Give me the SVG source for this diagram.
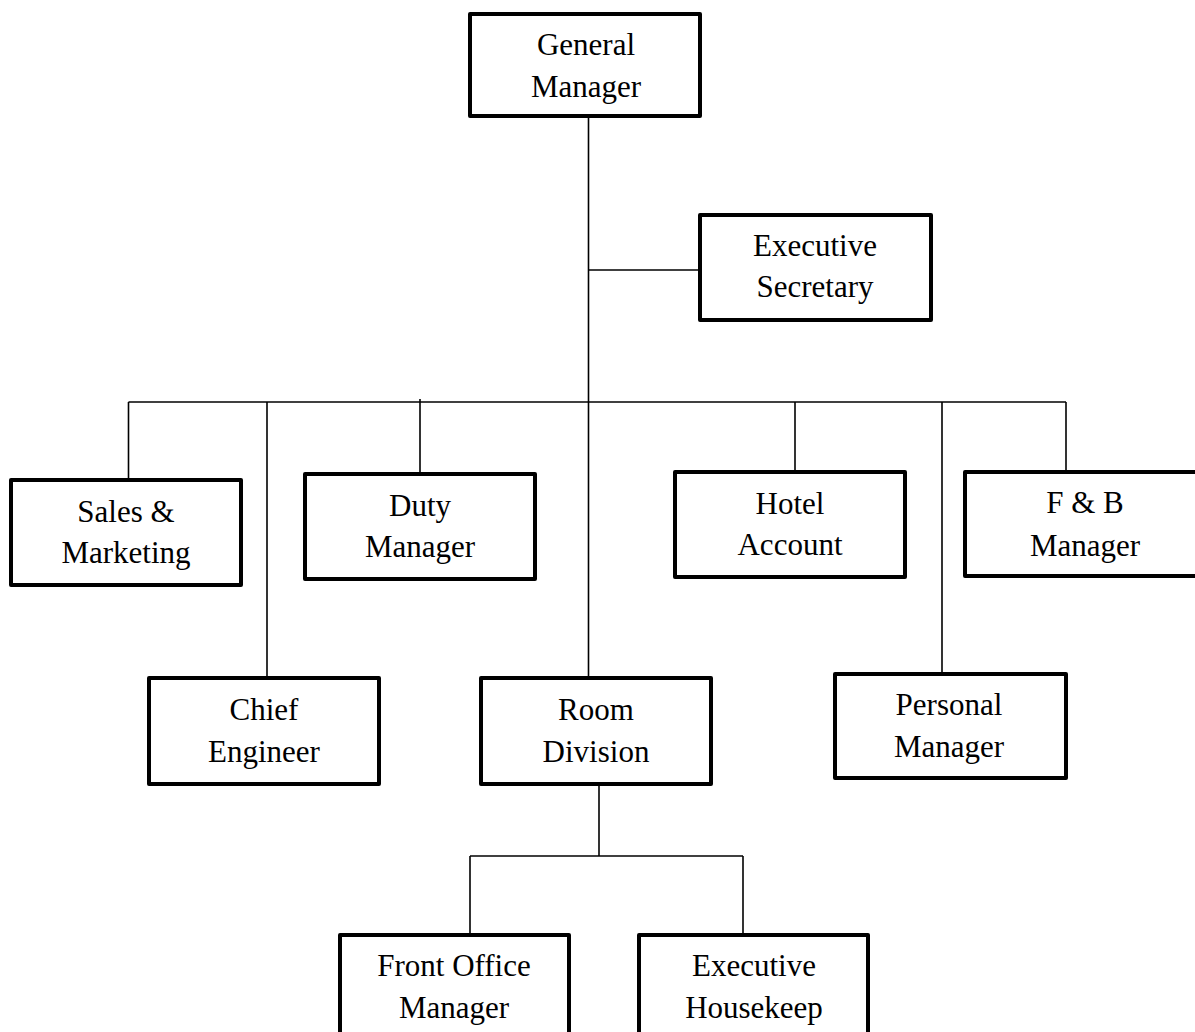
<svg xmlns="http://www.w3.org/2000/svg" width="1195" height="1032" viewBox="0 0 1195 1032">
<style>
.box{fill:#fff;stroke:#000;stroke-width:4;stroke-linejoin:round}
.lbl{font-family:"Liberation Serif","Times New Roman",serif;font-size:31px;fill:#000;text-anchor:middle}
.ln{stroke:#000;stroke-width:1.6;fill:none}
</style>
<rect width="1195" height="1032" fill="#fff"/>
<g id="connectors">
<line class="ln" x1="588.5" y1="116" x2="588.5" y2="676"/>
<line class="ln" x1="588.5" y1="270" x2="700" y2="270"/>
<line class="ln" x1="128.5" y1="402" x2="1066" y2="402"/>
<line class="ln" x1="128.5" y1="402" x2="128.5" y2="480"/>
<line class="ln" x1="267" y1="402" x2="267" y2="678"/>
<line class="ln" x1="420" y1="399" x2="420" y2="474"/>
<line class="ln" x1="795" y1="402" x2="795" y2="472"/>
<line class="ln" x1="942" y1="402" x2="942" y2="674"/>
<line class="ln" x1="1066" y1="402" x2="1066" y2="472"/>
<line class="ln" x1="599" y1="785" x2="599" y2="856"/>
<line class="ln" x1="470" y1="856" x2="743" y2="856"/>
<line class="ln" x1="470" y1="856" x2="470" y2="935"/>
<line class="ln" x1="743" y1="856" x2="743" y2="935"/>
</g>
<g id="general-manager">
<rect class="box" x="470" y="14" width="230" height="102"/>
<text class="lbl" x="586" y="55">General</text>
<text class="lbl" x="586" y="97">Manager</text>
</g>
<g id="executive-secretary">
<rect class="box" x="700" y="215" width="231" height="105"/>
<text class="lbl" x="815" y="256">Executive</text>
<text class="lbl" x="815" y="297">Secretary</text>
</g>
<g id="sales-marketing">
<rect class="box" x="11" y="480" width="230" height="105"/>
<text class="lbl" x="126" y="522">Sales &amp;</text>
<text class="lbl" x="126" y="563">Marketing</text>
</g>
<g id="duty-manager">
<rect class="box" x="305" y="474" width="230" height="105"/>
<text class="lbl" x="420" y="516">Duty</text>
<text class="lbl" x="420" y="557">Manager</text>
</g>
<g id="hotel-account">
<rect class="box" x="675" y="472" width="230" height="105"/>
<text class="lbl" x="790" y="514">Hotel</text>
<text class="lbl" x="790" y="555">Account</text>
</g>
<g id="fb-manager">
<rect class="box" x="965" y="472" width="233" height="104"/>
<text class="lbl" x="1085" y="513">F &amp; B</text>
<text class="lbl" x="1085" y="556">Manager</text>
</g>
<g id="chief-engineer">
<rect class="box" x="149" y="678" width="230" height="106"/>
<text class="lbl" x="264" y="720">Chief</text>
<text class="lbl" x="264" y="762">Engineer</text>
</g>
<g id="room-division">
<rect class="box" x="481" y="678" width="230" height="106"/>
<text class="lbl" x="596" y="720">Room</text>
<text class="lbl" x="596" y="762">Division</text>
</g>
<g id="personal-manager">
<rect class="box" x="835" y="674" width="231" height="104"/>
<text class="lbl" x="949" y="715">Personal</text>
<text class="lbl" x="949" y="757">Manager</text>
</g>
<g id="front-office-manager">
<rect class="box" x="340" y="935" width="229" height="110"/>
<text class="lbl" x="454" y="976">Front Office</text>
<text class="lbl" x="454" y="1018">Manager</text>
</g>
<g id="executive-housekeep">
<rect class="box" x="639" y="935" width="229" height="110"/>
<text class="lbl" x="754" y="976">Executive</text>
<text class="lbl" x="754" y="1018">Housekeep</text>
</g>
</svg>
